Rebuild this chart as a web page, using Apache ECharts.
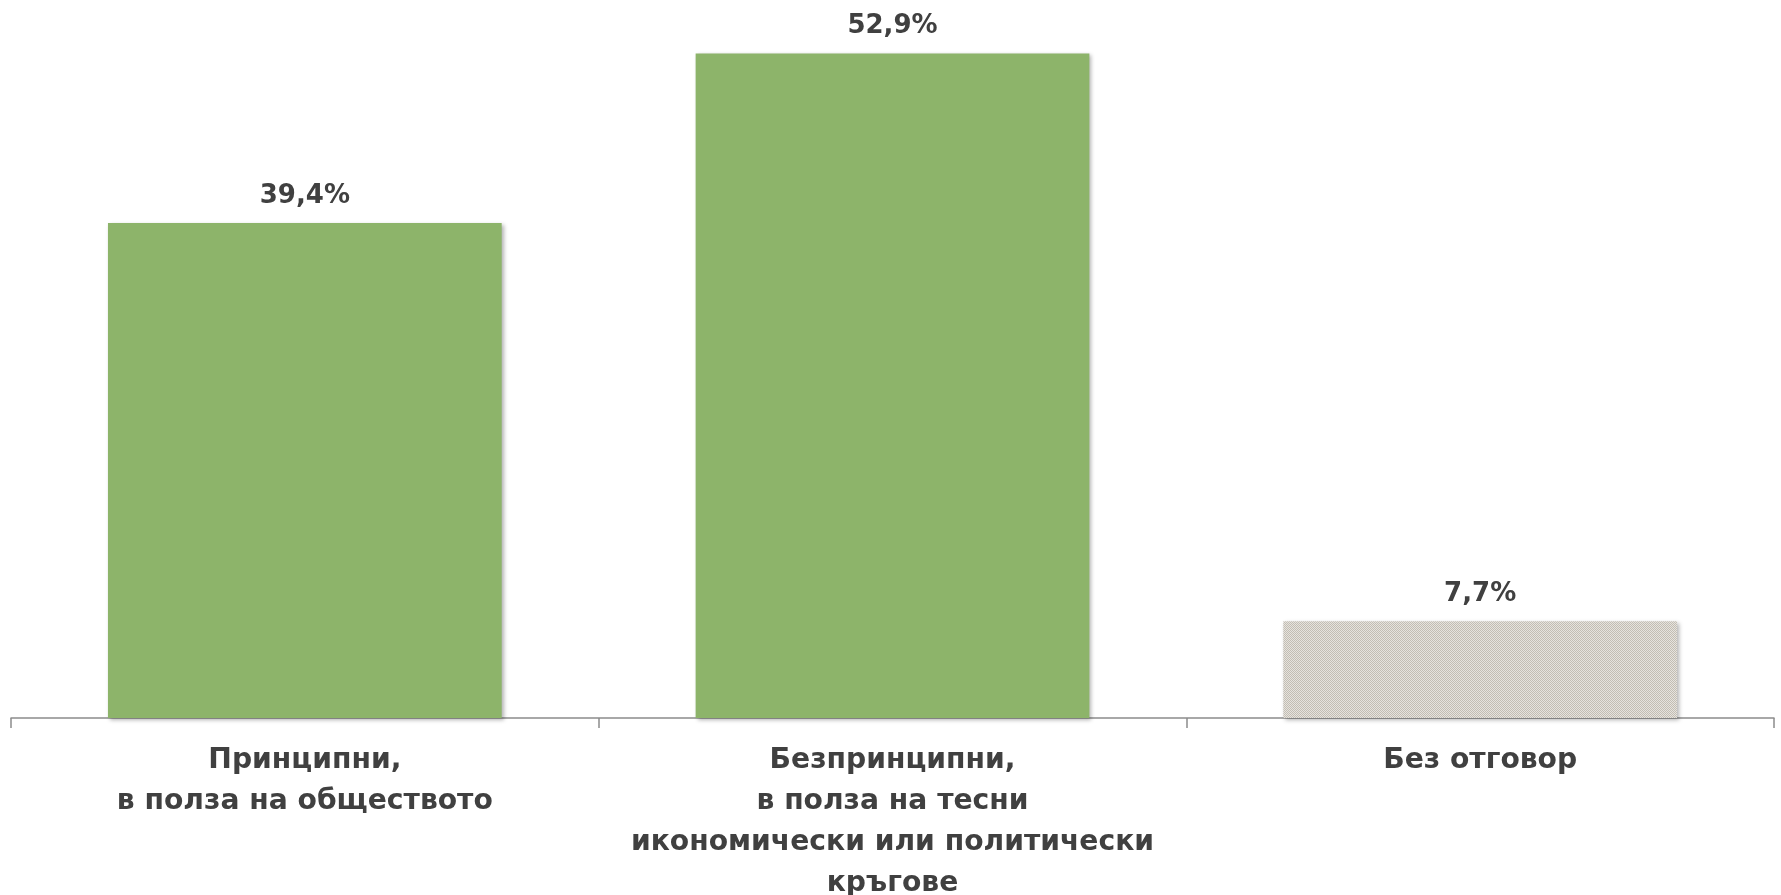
<!DOCTYPE html>
<html>
<head>
<meta charset="utf-8">
<script src="https://cdn.jsdelivr.net/npm/echarts@6/dist/echarts.min.js"></script>
<style>
  html, body { margin: 0; padding: 0; background: #fff; }
  #main { width: 1781px; height: 895px; }
</style>
</head>
<body>
<div id="main"></div>
<script>
// данни
const categories = [
  'Принципни,\nв полза на обществото',
  'Безпринципни,\nв полза на тесни\nикономически или политически\nкръгове',
  'Без отговор'
];
const values = [39.4, 52.9, 7.7];

// шарка за "Без отговор"
function makePattern() {
  const c = document.createElement('canvas');
  c.width = 2; c.height = 2;
  const ctx = c.getContext('2d');
  ctx.fillStyle = '#e6e3de';
  ctx.fillRect(0, 0, 2, 2);
  ctx.fillStyle = '#c2bdb3';
  ctx.fillRect(0, 0, 1, 1);
  ctx.fillRect(1, 1, 1, 1);
  return c;
}

const green = '#8db46a';
const shadow = {
  shadowBlur: 4,
  shadowOffsetX: 2,
  shadowOffsetY: 2,
  shadowColor: 'rgba(0,0,0,0.3)'
};

const chart = echarts.init(document.getElementById('main'));
chart.setOption({
  animation: false,
  grid: { left: 11, right: 7, top: 27, bottom: 177, outerBoundsMode: 'none', containLabel: false },
  xAxis: {
    type: 'category',
    data: categories,
    axisLine: { lineStyle: { color: '#8c8c8c', width: 1.5 } },
    axisTick: { show: true, length: 10, lineStyle: { color: '#8c8c8c', width: 1.5 } },
    axisLabel: {
      interval: 0,
      margin: 22,
      color: '#404040',
      fontFamily: 'DejaVu Sans',
      fontWeight: 'bold',
      fontSize: 28.2,
      lineHeight: 41
    }
  },
  yAxis: {
    type: 'value',
    min: 0,
    max: 55,
    show: false,
    splitLine: { show: false }
  },
  series: [{
    type: 'bar',
    barWidth: '67%',
    data: values.map((v, i) => ({
      value: v,
      itemStyle: i === 2
        ? Object.assign({ color: { image: makePattern(), repeat: 'repeat' } }, shadow)
        : Object.assign({ color: green }, shadow)
    })),
    label: {
      show: true,
      position: 'top',
      distance: 14,
      color: '#404040',
      fontFamily: 'DejaVu Sans',
      fontWeight: 'bold',
      fontSize: 26,
      formatter: p => p.value.toFixed(1).replace('.', ',') + '%'
    }
  }]
});
</script>
</body>
</html>
